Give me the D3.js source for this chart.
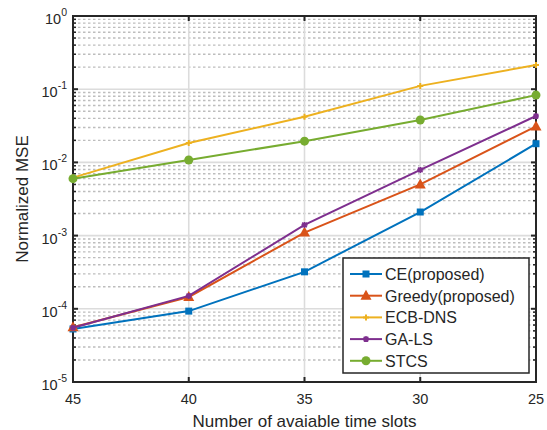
<!DOCTYPE html>
<html>
<head>
<meta charset="utf-8">
<script src="https://cdn.jsdelivr.net/npm/d3@7"></script>
<style>
  body { margin: 0; background: #fff; }
  svg text { font-family: "Liberation Sans", Arial, Helvetica, sans-serif; fill: #262626; }
</style>
</head>
<body>
<svg id="chart" width="547" height="430"></svg>
<script>
// ---- data ----
const slots = [45, 40, 35, 30, 25];
const seriesNames = ["CE(proposed)", "Greedy(proposed)", "ECB-DNS", "GA-LS", "STCS"];
const ceValues = [5.3e-5, 9.3e-5, 3.2e-4, 2.1e-3, 0.018];
const greedyValues = [5.6e-5, 1.45e-4, 1.1e-3, 5.0e-3, 0.031];
const ecbValues = [0.0062, 0.0184, 0.042, 0.111, 0.214];
const galsValues = [5.5e-5, 1.5e-4, 1.4e-3, 7.9e-3, 0.043];
const stcsValues = [0.0060, 0.0108, 0.0195, 0.038, 0.083];
const xTicks = [45, 40, 35, 30, 25];
const yExponents = [0, -1, -2, -3, -4, -5];

const colors = ["#0072BD", "#D95319", "#EDB120", "#7E2F8E", "#77AC30"];
const markers = ["square", "triangle", "plus", "star", "circle"];
const allValues = [ceValues, greedyValues, ecbValues, galsValues, stcsValues];

// ---- layout ----
const margin = { left: 73, right: 11, top: 16, bottom: 48 };
const W = 547, H = 430;
const svg = d3.select("#chart");

const x = d3.scaleLinear().domain([45, 25]).range([margin.left, W - margin.right]);
const y = d3.scaleLog().domain([1e-5, 1]).range([H - margin.bottom, margin.top]);
const x0 = x.range()[0], x1 = x.range()[1], y0 = y.range()[0], y1 = y.range()[1];

// ---- grid ----
const grid = svg.append("g");
const minorVals = [];
for (let e = -5; e < 0; e++) for (let m = 2; m <= 9; m++) minorVals.push(m * Math.pow(10, e));

grid.selectAll(".minor").data(minorVals).enter().append("line")
  .attr("x1", x0).attr("x2", x1)
  .attr("y1", d => y(d)).attr("y2", d => y(d))
  .attr("stroke", "#bdbdbd").attr("stroke-width", 1.4)
  .attr("stroke-dasharray", "2.5,2.5");

grid.selectAll(".majY").data(yExponents).enter().append("line")
  .attr("x1", x0).attr("x2", x1)
  .attr("y1", d => y(Math.pow(10, d))).attr("y2", d => y(Math.pow(10, d)))
  .attr("stroke", "#dcdcdc").attr("stroke-width", 1.6);

grid.selectAll(".majX").data(xTicks).enter().append("line")
  .attr("x1", d => x(d)).attr("x2", d => x(d))
  .attr("y1", y0).attr("y2", y1)
  .attr("stroke", "#dcdcdc").attr("stroke-width", 1.6);

// ---- axes box and ticks ----
const axis = svg.append("g");
const tickColor = "#262626";
// x ticks (bottom and top)
xTicks.forEach(t => {
  axis.append("line").attr("x1", x(t)).attr("x2", x(t)).attr("y1", y0).attr("y2", y0 - 5)
    .attr("stroke", tickColor).attr("stroke-width", 2);
  axis.append("line").attr("x1", x(t)).attr("x2", x(t)).attr("y1", y1).attr("y2", y1 + 5)
    .attr("stroke", tickColor).attr("stroke-width", 2);
});
// y major ticks
yExponents.forEach(e => {
  const yy = y(Math.pow(10, e));
  axis.append("line").attr("x1", x0).attr("x2", x0 + 5).attr("y1", yy).attr("y2", yy)
    .attr("stroke", tickColor).attr("stroke-width", 2);
  axis.append("line").attr("x1", x1).attr("x2", x1 - 5).attr("y1", yy).attr("y2", yy)
    .attr("stroke", tickColor).attr("stroke-width", 2);
});
// y minor ticks
minorVals.forEach(v => {
  const yy = y(v);
  axis.append("line").attr("x1", x0).attr("x2", x0 + 3).attr("y1", yy).attr("y2", yy)
    .attr("stroke", tickColor).attr("stroke-width", 1.5);
  axis.append("line").attr("x1", x1).attr("x2", x1 - 3).attr("y1", yy).attr("y2", yy)
    .attr("stroke", tickColor).attr("stroke-width", 1.5);
});
axis.append("rect").attr("x", x0).attr("y", y1).attr("width", x1 - x0).attr("height", y0 - y1)
  .attr("fill", "none").attr("stroke", tickColor).attr("stroke-width", 2);

// tick labels
svg.selectAll(".xlab").data(xTicks).enter().append("text")
  .attr("x", d => x(d)).attr("y", y0 + 22)
  .attr("text-anchor", "middle").attr("font-size", 14.5).text(d => d);

yExponents.forEach(e => {
  const t = svg.append("text").attr("x", x0 - 6).attr("y", y(Math.pow(10, e)) + 8)
    .attr("text-anchor", "end").attr("font-size", 14.5);
  t.append("tspan").text("10");
  t.append("tspan").attr("dy", -8).attr("font-size", 10.5).text(e);
});

// axis titles
svg.append("text").attr("x", (x0 + x1) / 2).attr("y", 427)
  .attr("text-anchor", "middle").attr("font-size", 17).text("Number of avaiable time slots");
svg.append("text").attr("transform", `translate(28,${(y0 + y1) / 2}) rotate(-90)`)
  .attr("text-anchor", "middle").attr("font-size", 17).text("Normalized MSE");

// ---- markers ----
function drawMarker(g, type, cx, cy, color) {
  if (type === "square") {
    g.append("rect").attr("x", cx - 3.5).attr("y", cy - 3.5).attr("width", 7).attr("height", 7).attr("fill", color);
  } else if (type === "triangle") {
    g.append("path").attr("d", `M${cx},${cy - 6}L${cx + 5.5},${cy + 4}L${cx - 5.5},${cy + 4}Z`).attr("fill", color);
  } else if (type === "circle") {
    g.append("circle").attr("cx", cx).attr("cy", cy).attr("r", 4.5).attr("fill", color);
  } else if (type === "plus") {
    g.append("path").attr("d", `M${cx - 3},${cy}H${cx + 3}M${cx},${cy - 3}V${cy + 3}`)
      .attr("stroke", color).attr("stroke-width", 2);
  } else if (type === "star") {
    g.append("path").attr("d", `M${cx - 3},${cy}H${cx + 3}M${cx},${cy - 3}V${cy + 3}M${cx - 2.3},${cy - 2.3}L${cx + 2.3},${cy + 2.3}M${cx - 2.3},${cy + 2.3}L${cx + 2.3},${cy - 2.3}`)
      .attr("stroke", color).attr("stroke-width", 1.6);
  }
}

// ---- series ----
const line = d3.line().x(d => x(d[0])).y(d => y(d[1]));
const plot = svg.append("g");
allValues.forEach((vals, i) => {
  const pts = slots.map((s, j) => [s, vals[j]]);
  plot.append("path").datum(pts).attr("d", line)
    .attr("fill", "none").attr("stroke", colors[i]).attr("stroke-width", 2);
  const mg = plot.append("g");
  pts.forEach(p => drawMarker(mg, markers[i], x(p[0]), y(p[1]), colors[i]));
});

// ---- legend ----
const lg = svg.append("g");
const lx = 343, ly = 258, lw = 186, lh = 115;
lg.append("rect").attr("x", lx).attr("y", ly).attr("width", lw).attr("height", lh)
  .attr("fill", "#fff").attr("stroke", tickColor).attr("stroke-width", 1.5);
seriesNames.forEach((name, i) => {
  const yy = ly + 16 + i * 21.7;
  lg.append("line").attr("x1", lx + 7).attr("x2", lx + 39).attr("y1", yy).attr("y2", yy)
    .attr("stroke", colors[i]).attr("stroke-width", 2);
  drawMarker(lg, markers[i], lx + 23, yy, colors[i]);
  lg.append("text").attr("x", lx + 42).attr("y", yy + 6).attr("font-size", 16).text(name);
});
</script>
</body>
</html>
